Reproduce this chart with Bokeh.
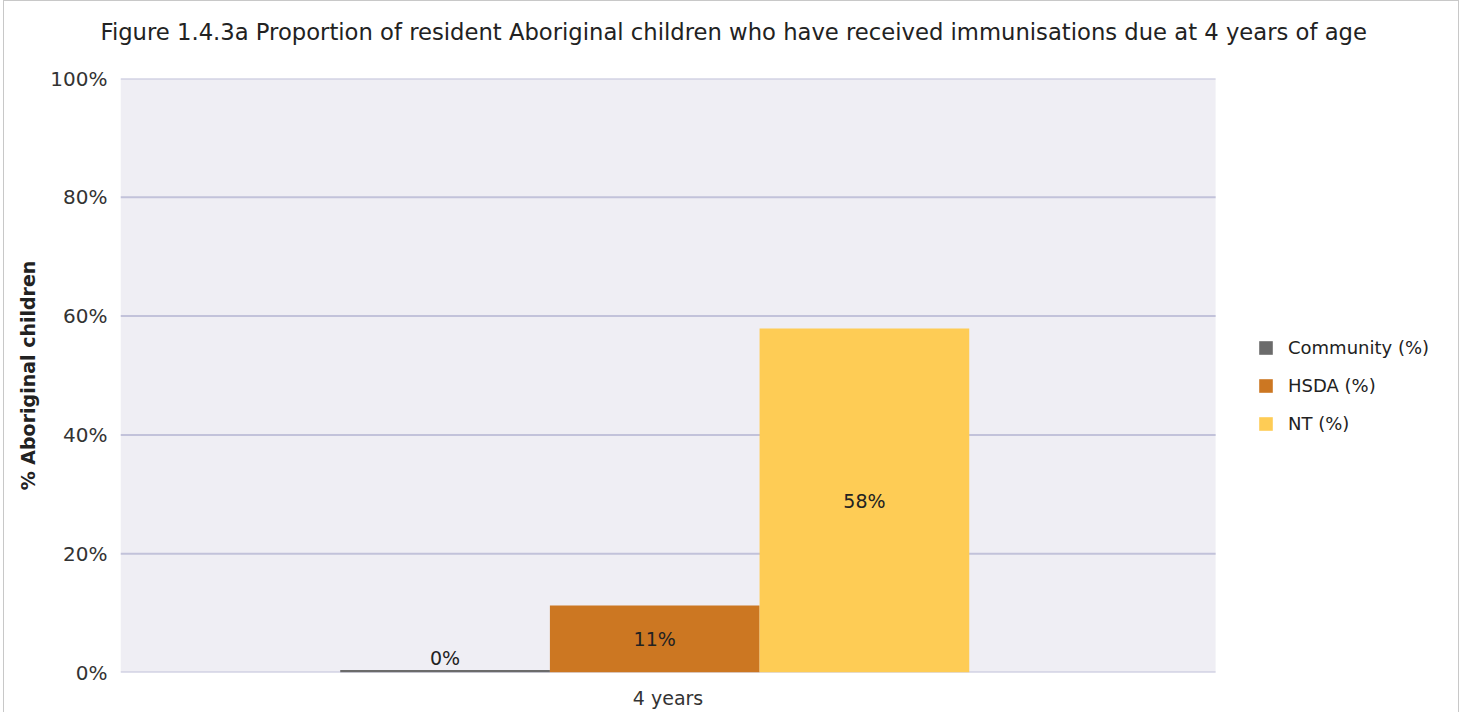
from bokeh.plotting import figure
from bokeh.models import ColumnDataSource, Legend, LegendItem, FixedTicker, Range1d, Title
from bokeh.core.properties import value
from bokeh.embed import file_html
from bokeh.resources import INLINE

# ---- data ----
title_text = "Figure 1.4.3a Proportion of resident Aboriginal children who have received immunisations due at 4 years of age"
category = "4 years"
series = ["Community (%)", "HSDA (%)", "NT (%)"]
values = [0.4, 11.3, 57.9]
labels = ["0%", "11%", "58%"]
colors = ["#6b6b6b", "#cc7722", "#fecc55"]
y_ticks = [0, 20, 40, 60, 80, 100]
y_tick_labels = ["0%", "20%", "40%", "60%", "80%", "100%"]
y_label = "% Aboriginal children"

FONT = "DejaVu Sans"

# bar slots within the single category group
slots = [-1, 0, 1]
label_y = [max(v / 2.0, 2.5) for v in values]
src = ColumnDataSource(dict(x=slots, top=values, color=colors, name=series,
                            label=labels, ly=label_y))

# plotting area (shaded) spans x_start..x_bg_end; the frame continues to the
# right to host the legend
x_start, x_bg_end, x_end = -2.548, 2.675, 3.843
y_min, y_max = 0, 100

p = figure(width=1456, height=712, output_backend="svg", toolbar_location=None,
           x_range=Range1d(x_start, x_end), y_range=Range1d(y_min, y_max),
           min_border_left=116, min_border_right=0, min_border_top=77,
           min_border_bottom=41)
p.styles = {"border-left": "1px solid #c8c8c8", "border-right": "1px solid #c8c8c8",
            "border-top": "1px solid #c8c8c8", "margin-left": "3px"}

# real title, with an empty spacer title between it and the frame
p.title.text = title_text
p.title.align = "left"
p.title.offset = -20
p.title.standoff = 0
p.title.text_font = FONT
p.title.text_font_size = "22.7px"
p.title.text_font_style = "normal"
p.title.text_color = "#222222"
p.add_layout(Title(text=" ", text_font_size="10px", standoff=21), "above")

p.background_fill_color = "white"
p.border_fill_color = "white"
p.outline_line_color = None
p.xgrid.grid_line_color = None
p.ygrid.grid_line_color = None

# shaded plot background and horizontal grid lines (only over the plot area)
p.quad(left=[x_start], right=[x_bg_end], bottom=[y_min], top=[y_max],
       fill_color="#efeef4", line_color=None)
p.segment(x0=[x_start] * len(y_ticks), x1=[x_bg_end] * len(y_ticks),
          y0=y_ticks, y1=y_ticks, line_color="#c2c2da", line_width=2)

r = p.vbar(x="x", top="top", bottom=0, width=1.0, color="color", line_color=None, source=src)

p.text(x="x", y="ly", text="label", source=src, text_align="center",
       text_baseline="middle", text_font=value(FONT), text_font_size="19px",
       text_color="#222222")

# axes
p.yaxis.ticker = FixedTicker(ticks=y_ticks)
p.yaxis.major_label_overrides = {t: l for t, l in zip(y_ticks, y_tick_labels)}
p.yaxis.axis_line_color = None
p.yaxis.major_tick_line_color = None
p.yaxis.minor_tick_line_color = None
p.yaxis.major_tick_out = 0
p.yaxis.major_label_standoff = 13
p.yaxis.major_label_text_font = FONT
p.yaxis.major_label_text_font_size = "20px"
p.yaxis.major_label_text_color = "#333333"
p.yaxis.axis_label = y_label
p.yaxis.axis_label_text_font = FONT
p.yaxis.axis_label_text_font_style = "bold"
p.yaxis.axis_label_text_font_size = "19px"
p.yaxis.axis_label_text_color = "#222222"
p.yaxis.axis_label_standoff = 8

mid = (x_start + x_bg_end) / 2.0
p.xaxis.ticker = FixedTicker(ticks=[mid])
p.xaxis.major_label_overrides = {mid: category}
p.xaxis.axis_line_color = None
p.xaxis.major_tick_line_color = None
p.xaxis.minor_tick_line_color = None
p.xaxis.major_tick_out = 0
p.xaxis.major_label_standoff = 14
p.xaxis.major_label_text_font = FONT
p.xaxis.major_label_text_font_size = "19px"
p.xaxis.major_label_text_color = "#333333"

# legend: one item per bar, placed right of the shaded area
items = [LegendItem(label=s, renderers=[r], index=i) for i, s in enumerate(series)]
legend = Legend(items=items, location=(1137, 238), orientation="vertical")
legend.glyph_width = 17
legend.glyph_height = 17
legend.spacing = 17
legend.padding = 0
legend.margin = 0
legend.label_standoff = 14
legend.label_text_font = FONT
legend.label_text_font_size = "18px"
legend.label_text_color = "#222222"
legend.border_line_color = None
legend.background_fill_alpha = 0
p.add_layout(legend)

open("out.html", "w").write(file_html(p, INLINE))
